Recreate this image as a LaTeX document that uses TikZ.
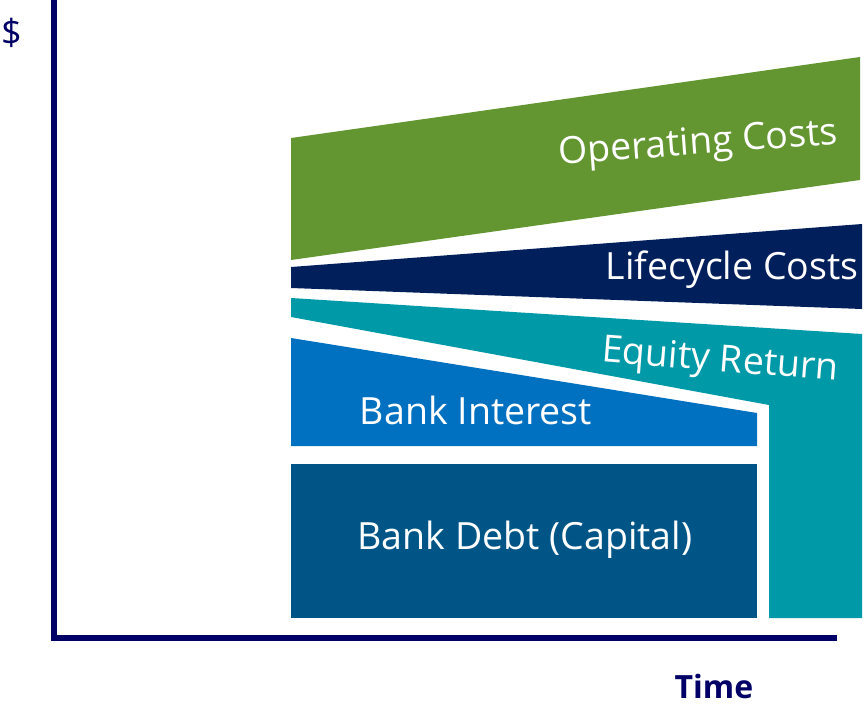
\documentclass[tikz,border=0pt]{standalone}
\usepackage{fontspec}
\setmainfont{Open Sans}
\definecolor{axisnavy}{HTML}{000066}
\definecolor{opgreen}{HTML}{639631}
\definecolor{lifenavy}{HTML}{001F5B}
\definecolor{equityteal}{HTML}{0099A8}
\definecolor{interestblue}{HTML}{0070C0}
\definecolor{debtblue}{HTML}{005587}
\tikzset{
  band/.style={draw=none},
  bandlabel/.style={text=white, font=\fontsize{37.5}{44}\selectfont, inner sep=0pt},
  axisline/.style={draw=axisnavy, line width=6pt},
  axislabel/.style={text=axisnavy, inner sep=0pt}
}
\begin{document}
\begin{tikzpicture}[x=1pt,y=-1pt]
\useasboundingbox (0,0) rectangle (864,707);
% axes
\coordinate (ytop) at (54,0);
\coordinate (origin) at (54,638);
\coordinate (xend) at (837,638);
\draw[axisline] (ytop) -- (origin) -- (xend);
\node[axislabel, font=\fontsize{36}{40}\selectfont, anchor=base] (dollar) at (11.5,45) {\$};
\node[axislabel, font=\bfseries\fontsize{32}{36}\selectfont, anchor=base, text depth=0pt] (time) at (714,698) {Time};
% bands
\fill[opgreen, band] (291,138) -- (860,57) -- (860,180) -- (291,260) -- cycle;
\fill[lifenavy, band] (291,267) -- (862,224) -- (862,309) -- (291,288) -- cycle;
\fill[equityteal, band] (291,298) -- (862,334) -- (862,618) -- (769,618) -- (769,405) -- (291,317) -- cycle;
\fill[interestblue, band] (291,338) -- (757,413) -- (757,446) -- (291,446) -- cycle;
\fill[debtblue, band] (291,464) rectangle (757,618);
% labels
\node[bandlabel, rotate=4.3] (oplabel) at (698,145) {Operating Costs};
\node[bandlabel] (lifelabel) at (732,270) {Lifecycle Costs};
\node[bandlabel, rotate=-4.5] (eqlabel) at (720,362) {Equity Return};
\node[bandlabel] (intlabel) at (476,410) {Bank Interest};
\node[bandlabel] (debtlabel) at (525,540) {Bank Debt (Capital)};
\end{tikzpicture}
\end{document}
